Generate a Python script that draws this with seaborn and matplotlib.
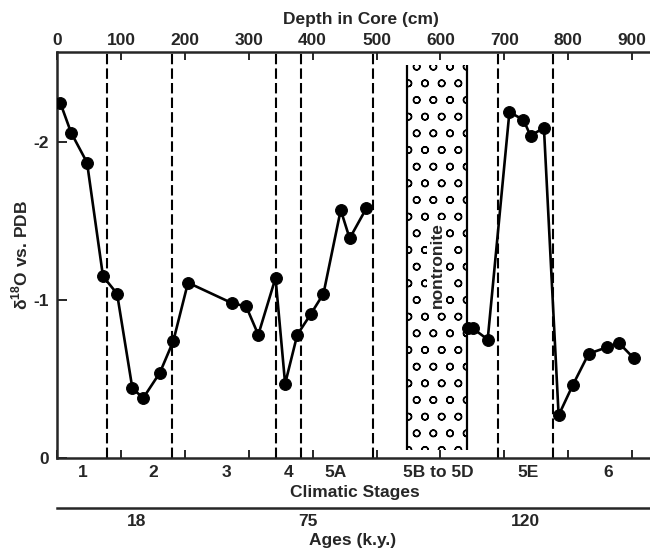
import matplotlib
matplotlib.use("Agg")
import numpy as np
import pandas as pd
import matplotlib.pyplot as plt
import seaborn as sns

# depth in core (cm) and d18O values
depth = [5, 22, 47, 72, 94, 118, 135, 161, 182, 205, 274, 296, 315, 342, 357,
         376, 397, 417, 444, 458, 484,
         643, 651, 674, 708, 730, 741, 762, 785, 807, 832, 860, 879, 903]
d18o = [-2.25, -2.06, -1.87, -1.15, -1.04, -0.44, -0.38, -0.54, -0.74, -1.11,
        -0.98, -0.96, -0.78, -1.14, -0.47, -0.78, -0.91, -1.04, -1.57, -1.39, -1.58,
        -0.82, -0.82, -0.75, -2.19, -2.14, -2.04, -2.09, -0.27, -0.46, -0.66,
        -0.70, -0.73, -0.63]
segment = [1] * 21 + [2] * 13   # line is broken across the nontronite layer

stage_bounds = [78, 180, 343, 382, 495, 690, 776]
stage_names = ["1", "2", "3", "4", "5A", "5B to 5D", "5E", "6"]
stage_centers = [41, 150, 265, 362, 436, 596, 737, 862]
age_labels = ["18", "75", "120"]
age_pos = [125, 393, 733]
nontronite = (548, 641)
nontronite_top, nontronite_bottom = -2.49, -0.05
depth_ticks = [0, 100, 200, 300, 400, 500, 600, 700, 800, 900]
y_ticks = [0, -1, -2]

sns.set_style("ticks")
plt.rcParams["font.family"] = ["Liberation Sans", "DejaVu Sans"]
plt.rcParams["font.weight"] = "bold"
plt.rcParams["mathtext.fontset"] = "custom"
plt.rcParams["mathtext.rm"] = "Liberation Sans:bold"
plt.rcParams["hatch.linewidth"] = 1.0
fs = 12.5

df = pd.DataFrame({"Depth": depth, "d18O": d18o, "seg": segment})

fig = plt.figure(figsize=(6.5, 5.48), dpi=100)
ax = fig.add_axes([57 / 650, 1 - 458 / 548, 593 / 650, 406 / 548])

# nontronite layer
ax.fill_between(nontronite, nontronite_bottom, nontronite_top, facecolor="white",
                edgecolor="black", hatch="o", linewidth=0, zorder=1)
ax.vlines(nontronite, nontronite_top, nontronite_bottom, color="black", lw=1.6, zorder=2)
ax.text(np.mean(nontronite), -1.22, "nontronite", rotation=90, ha="center", va="center",
        fontsize=fs, fontweight="bold", zorder=3,
        bbox=dict(facecolor="white", edgecolor="none", pad=1.5))

for b in stage_bounds:
    ax.axvline(b, color="black", lw=1.5, ls=(0, (5, 2)), zorder=2)

sns.lineplot(data=df, x="Depth", y="d18O", units="seg", estimator=None, sort=False,
             color="black", lw=1.9, marker="o", markersize=8.5, markeredgecolor="black",
             ax=ax, zorder=4)

ax.set_xlim(0, 928)
ax.set_ylim(0, -2.57)
ax.set_xticks(depth_ticks)
ax.set_xticklabels([str(t) for t in depth_ticks], fontsize=fs, fontweight="bold")
ax.set_yticks(y_ticks)
ax.set_yticklabels([str(t) for t in y_ticks], fontsize=fs, fontweight="bold")
ax.tick_params(axis="x", top=True, bottom=True, labeltop=True, labelbottom=False,
               direction="in", length=5.5, width=1.4, pad=3)
ax.tick_params(axis="y", direction="in", length=7, width=1.4, pad=6)
ax.spines["right"].set_visible(False)
for s in ["top", "left", "bottom"]:
    ax.spines[s].set_linewidth(1.8)
ax.set_xlabel("")
ax.set_ylabel("δ$^{18}$O vs. PDB", fontsize=fs, fontweight="bold")
ax.yaxis.set_label_coords(-0.045, 0.5)

ax.text(0.513, 1.081, "Depth in Core (cm)", transform=ax.transAxes, ha="center",
        va="center", fontsize=fs, fontweight="bold")

trans = ax.get_xaxis_transform()
for name, c in zip(stage_names, stage_centers):
    ax.text(c, -0.036, name, transform=trans, ha="center", va="center",
            fontsize=fs, fontweight="bold")
ax.text(0.503, -0.086, "Climatic Stages", transform=ax.transAxes, ha="center",
        va="center", fontsize=fs, fontweight="bold")

# ages strip: only its top spine is shown
ax_age = fig.add_axes([57 / 650, 0.0, 593 / 650, 1 - 508 / 548])
ax_age.set_xlim(ax.get_xlim())
ax_age.set_ylim(0, 1)
for s in ["left", "right", "bottom"]:
    ax_age.spines[s].set_visible(False)
ax_age.spines["top"].set_linewidth(1.8)
ax_age.set_xticks([])
ax_age.set_yticks([])
for lab, p in zip(age_labels, age_pos):
    ax_age.text(p, 0.65, lab, ha="center", va="center", fontsize=fs, fontweight="bold")
ax_age.text(0.499, 0.2, "Ages (k.y.)", transform=ax_age.transAxes, ha="center",
            va="center", fontsize=fs, fontweight="bold")

fig.savefig("out.png", dpi=100)
